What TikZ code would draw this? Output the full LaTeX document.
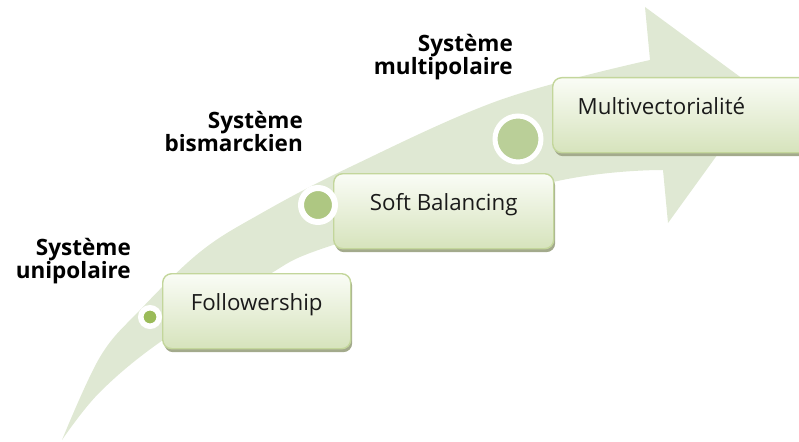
\documentclass[tikz,border=0pt]{standalone}
\usepackage{fontspec}
\setmainfont{Open Sans}
\usetikzlibrary{shadows}
\definecolor{arrowc}{HTML}{DFE8D3}
\definecolor{boxtop}{HTML}{FAFCF6}
\definecolor{boxbot}{HTML}{D6E3BC}
\definecolor{boxline}{HTML}{C3D69B}
\definecolor{shadc}{HTML}{A3AA8C}
\definecolor{dotA}{HTML}{9BBB59}
\definecolor{dotB}{HTML}{AEC782}
\definecolor{dotC}{HTML}{BACF98}
\definecolor{txt}{HTML}{1A1A1A}
\tikzset{
  stagebox/.style={rectangle, rounded corners=9pt, draw=boxline, line width=1.4pt,
    top color=boxtop, bottom color=boxbot, inner xsep=0pt, inner ysep=0pt,
    text height=37pt, text depth=38pt, text=txt, font=\fontsize{22.3}{26}\selectfont,
    drop shadow={shadow xshift=1.5pt, shadow yshift=-3.5pt, fill=shadc, opacity=1}},
  dot/.style={circle, draw=white, inner sep=0pt},
  lvl/.style={align=right, font=\bfseries\fontsize{22.5}{23}\selectfont, inner sep=0pt, text=black}
}
\begin{document}
\begin{tikzpicture}[x=1pt, y=-1pt]
\useasboundingbox (0,0) rectangle (799,441);
% curved arrow
\fill[arrowc] plot[smooth, tension=0.6] coordinates {(62,440) (100,357) (140,310) (200,252) (260,214) (350,167) (500,100) (650,60)}
  -- (645,7) -- (762,93) -- (668,223) --
  plot[smooth, tension=0.6] coordinates {(663,170) (553,182) (333,245) (263,278) (163,340) (100,392) (62,440)} -- cycle;
% boxes
\node[stagebox, minimum width=188pt, anchor=north west] (f) at (162,273) {Followership};
\node[stagebox, minimum width=220pt, anchor=north west] (s) at (333,173) {Soft Balancing};
\node[stagebox, anchor=north west, text width=262pt, align=left] (m) at (552,77) {\hspace*{25pt}Multivectorialité};
% dots
\node[dot, fill=dotA, line width=5.5pt, minimum size=18.5pt] (d1) at (150,317) {};
\node[dot, fill=dotB, line width=6pt, minimum size=34pt] (d2) at (318,205) {};
\node[dot, fill=dotC, line width=5pt, minimum size=46pt] (d3) at (518,139) {};
% labels
\node[lvl, anchor=east] (l1) at (131,261) {Système\\unipolaire};
\node[lvl, anchor=east] (l2) at (303,131) {Système\\bismarckien};
\node[lvl, anchor=east] (l3) at (513,57) {Système\\multipolaire};
\end{tikzpicture}
\end{document}
